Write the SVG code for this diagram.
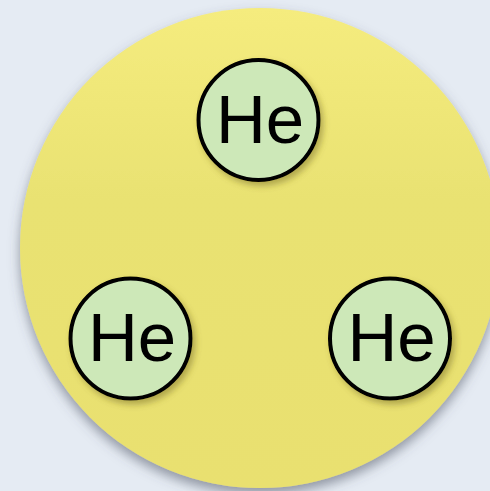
<svg xmlns="http://www.w3.org/2000/svg" width="490" height="491" viewBox="0 0 490 491">
  <defs>
    <style>
      .atom circle { fill: #cde8b8; stroke: #000; stroke-width: 4; }
      .atom text { font-family: "Liberation Sans", Arial, sans-serif; font-size: 69px; fill: #000; text-anchor: middle; }
    </style>
    <linearGradient id="yg" x1="0" y1="0" x2="0" y2="1">
      <stop offset="0" stop-color="#f5ec7e"/>
      <stop offset="0.4" stop-color="#e9e272"/>
      <stop offset="1" stop-color="#e9e070"/>
    </linearGradient>
    <filter id="bigShadow" x="-20%" y="-20%" width="140%" height="140%">
      <feGaussianBlur in="SourceAlpha" stdDeviation="6"/>
      <feOffset dx="0" dy="6" result="b"/>
      <feFlood flood-color="#4a5060" flood-opacity="0.55"/>
      <feComposite in2="b" operator="in"/>
      <feMerge><feMergeNode/><feMergeNode in="SourceGraphic"/></feMerge>
    </filter>
    <filter id="smallShadow" x="-30%" y="-30%" width="160%" height="160%">
      <feGaussianBlur in="SourceAlpha" stdDeviation="3"/>
      <feOffset dx="3" dy="4" result="b"/>
      <feFlood flood-color="#6a6020" flood-opacity="0.45"/>
      <feComposite in2="b" operator="in"/>
      <feMerge><feMergeNode/><feMergeNode in="SourceGraphic"/></feMerge>
    </filter>
  </defs>
  <rect width="490" height="491" fill="#e5ebf3"/>
  <g id="container">
    <circle cx="260" cy="248" r="240" fill="url(#yg)" filter="url(#bigShadow)"/>
  </g>
  <g id="he-top" class="atom" filter="url(#smallShadow)">
    <circle cx="258.5" cy="120" r="60"/>
    <text x="260" y="143">He</text>
  </g>
  <g id="he-left" class="atom" filter="url(#smallShadow)">
    <circle cx="130.5" cy="338.5" r="60"/>
    <text x="132" y="361">He</text>
  </g>
  <g id="he-right" class="atom" filter="url(#smallShadow)">
    <circle cx="390" cy="338.5" r="60"/>
    <text x="391.5" y="361">He</text>
  </g>
  <g id="connectors"/>
</svg>
